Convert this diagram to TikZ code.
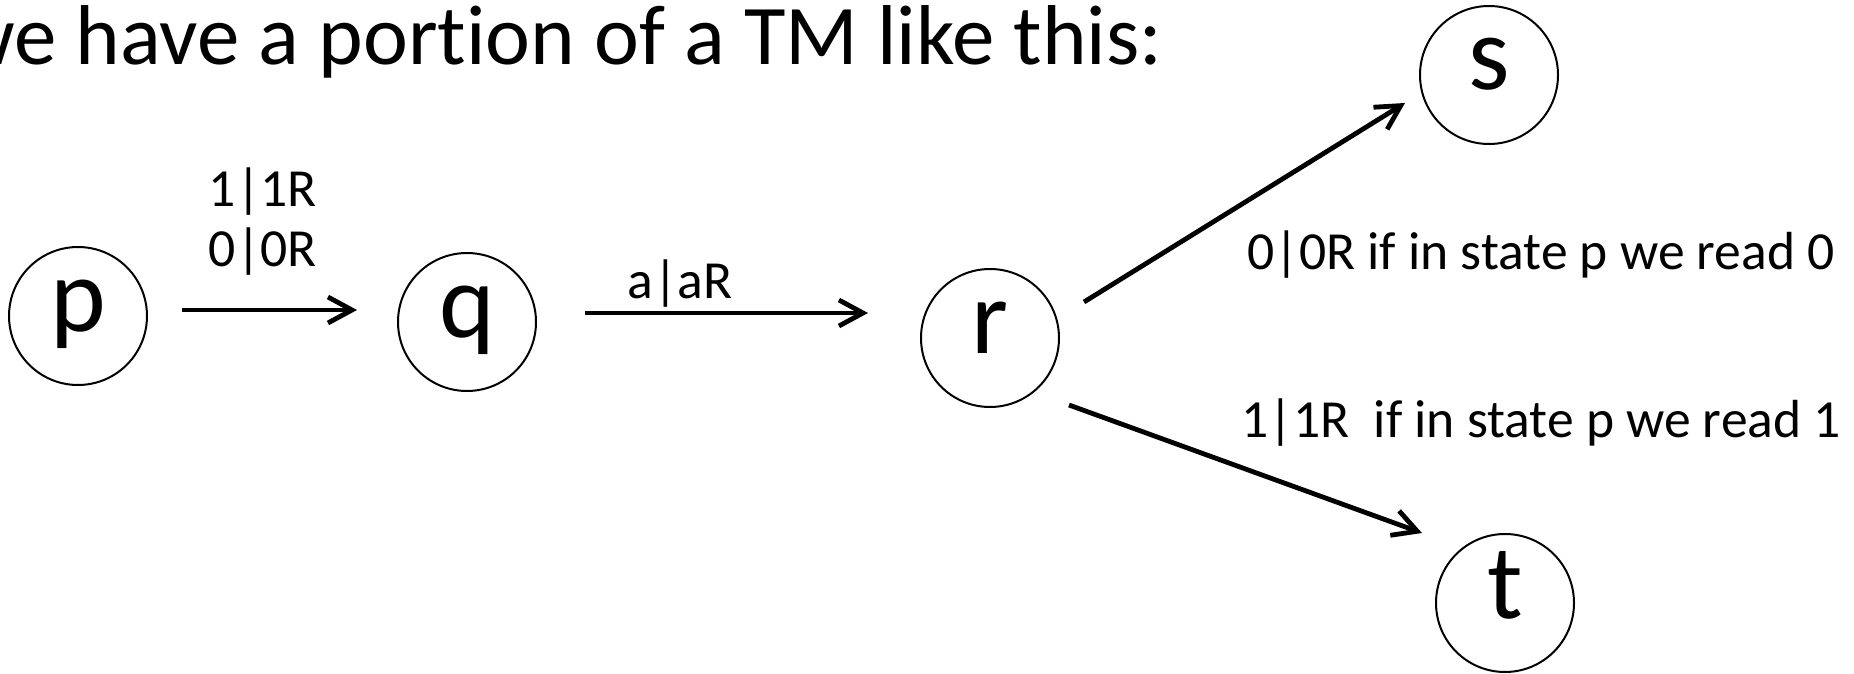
\documentclass[tikz,border=0pt]{standalone}
\usepackage{fontspec}
\setmainfont{Carlito}[Ligatures=CommonOff]
\usetikzlibrary{arrows.meta,calc}
\begin{document}
\begin{tikzpicture}[x=0.5pt,y=-0.5pt,
  state/.style={circle,draw,line width=1pt,minimum size=69pt,inner sep=0pt,
    text height=25pt,text depth=10pt,font=\fontsize{53}{60}\selectfont},
  arr/.style={line width=2.4pt,-{Straight Barb[length=12pt,width=13pt]}},
  lbl/.style={anchor=base,inner sep=0pt,font=\fontsize{26.8}{30}\selectfont},
  ttl/.style={anchor=base east,inner sep=0pt,font=\fontsize{42.5}{50}\selectfont}]
\useasboundingbox[fill=white] (0,0) rectangle (1854,674);

\node[ttl] (title) at (1163,65) {we have a portion of a TM like this:};

\node[state] (p) at (78,316) {p};
\node[state] (q) at (467,322) {q};
\node[state] (r) at (990,338) {r};
\node[state] (s) at (1489,75) {s};
\node[state] (t) at (1505,603) {t};

\draw[arr] ($(p)+(104,-6)$) -- ($(q)+(-110,-12)$);
\draw[arr] ($(q)+(118,-9)$) -- ($(r)+(-122,-25)$);
\draw[arr] ($(r)+(94,-36)$) -- ($(s)+(-84,28)$);
\draw[arr] ($(r)+(79,67)$) -- ($(t)+(-83,-70)$);

\node[lbl] (l1) at (263,206) {1|1R};
\node[lbl] (l2) at (263,266) {0|0R};
\node[lbl] (l3) at (680,298) {a|aR};
\node[lbl,anchor=base west] (l4) at (1247,269) {0|0R if in state p we read 0};
\node[lbl,anchor=base west] (l5) at (1241,437) {1|1R\ \ if in state p we read 1};
\end{tikzpicture}
\end{document}
